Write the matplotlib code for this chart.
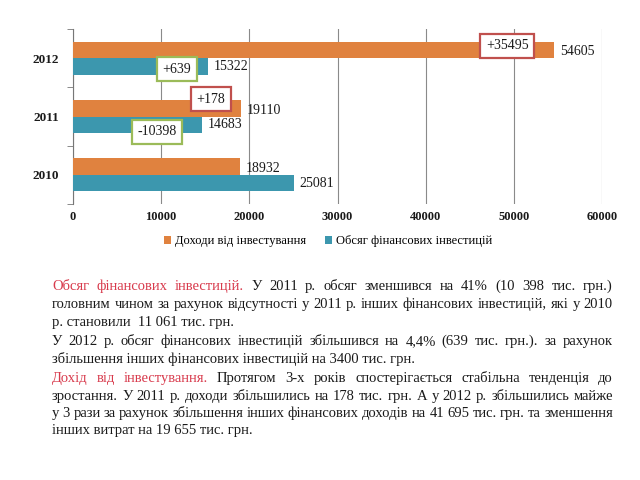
import matplotlib
matplotlib.use("Agg")
import matplotlib.pyplot as plt
import numpy as np

plt.rcParams['font.family'] = ['Liberation Serif', 'DejaVu Serif']

# ---------- DATA ----------
years = ["2010", "2011", "2012"]
income = [18932, 19110, 54605]          # Доходи від інвестування
volume = [25081, 14683, 15322]          # Обсяг фінансових інвестицій
income_change = [None, "+178", "+35495"]
volume_change = [None, "-10398", "+639"]
xticks = [0, 10000, 20000, 30000, 40000, 50000, 60000]
legend_labels = ["Доходи від інвестування", "Обсяг фінансових інвестицій"]

# (red lead-in, rest of line, justified?)
text_lines = [
    ("Обсяг фінансових інвестицій.", "У 2011 р. обсяг зменшився на 41% (10 398 тис. грн.)", True),
    ("", "головним чином за рахунок відсутності у 2011 р. інших фінансових інвестицій, які у 2010", True),
    ("", "р. становили  11 061 тис. грн.", False),
    ("", "У 2012 р. обсяг фінансових інвестицій збільшився на 4,4% (639 тис. грн.). за рахунок", True),
    ("", "збільшення інших фінансових інвестицій на 3400 тис. грн.", False),
    ("Дохід від інвестування.", "Протягом 3-х років спостерігається стабільна тенденція до", True),
    ("", "зростання. У 2011 р. доходи збільшились на 178 тис. грн. А у 2012 р. збільшились майже", True),
    ("", "у 3 рази за рахунок збільшення інших фінансових доходів на 41 695 тис. грн. та зменшення", True),
    ("", "інших витрат на 19 655 тис. грн.", False),
]

# ---------- LAYOUT / STYLE ----------
W, H = 640, 480
ORANGE = "#E0823F"
TEAL = "#3C97AE"
RED_BOX = "#C0504D"
GREEN_BOX = "#9BBB59"
RED_TEXT = "#D83A4C"
INK = "#1a1a1a"
BAR_H = 0.285

# centres of the change boxes (data x, category y)
income_box_xy = [None, (15650, 1.30), (49260, 2.215)]
volume_box_xy = [None, (9520, 0.74), (11800, 1.81)]

TEXT_LEFT, TEXT_RIGHT = 52, 613
LINE_CENTERS = [286, 304, 322, 341, 359, 378, 396, 413, 430]
TEXT_FS = 10.5


def draw_chart(ax):
    y = np.arange(len(years))
    ax.barh(y + BAR_H / 2, income, height=BAR_H, color=ORANGE, zorder=3,
            label=legend_labels[0])
    ax.barh(y - BAR_H / 2, volume, height=BAR_H, color=TEAL, zorder=3,
            label=legend_labels[1])

    for i in range(len(years)):
        ax.annotate(str(income[i]), (income[i], y[i] + BAR_H / 2), xytext=(4, -1.5),
                    textcoords="offset points", va="center", ha="left",
                    fontsize=10, color=INK)
        ax.annotate(str(volume[i]), (volume[i], y[i] - BAR_H / 2), xytext=(4, 0),
                    textcoords="offset points", va="center", ha="left",
                    fontsize=10, color=INK)

    for labels, xy, edge in ((income_change, income_box_xy, RED_BOX),
                             (volume_change, volume_box_xy, GREEN_BOX)):
        for lab, pos in zip(labels, xy):
            if lab is None:
                continue
            ax.text(pos[0], pos[1], lab, ha="center", va="center", fontsize=10,
                    color=INK, zorder=5,
                    bbox=dict(boxstyle="square,pad=0.4", fc="white", ec=edge, lw=1.6))

    ax.set_xlim(0, 60000)
    ax.set_ylim(-0.5, 2.5)
    ax.set_xticks(xticks)
    ax.set_xticklabels([str(t) for t in xticks], fontsize=9, color=INK, fontweight="bold")
    ax.set_yticks(y)
    ax.set_yticklabels(years, fontsize=9.5, color=INK, fontweight="bold")
    ax.tick_params(axis="y", length=0, pad=10)
    ax.tick_params(axis="x", length=0, pad=5)
    ax.set_yticks([-0.5, 0.5, 1.5, 2.5], minor=True)
    ax.tick_params(axis="y", which="minor", length=4, color="#777777")

    ax.grid(axis="x", color="#8a8a8a", lw=0.8, zorder=0)
    for s in ("top", "right", "bottom"):
        ax.spines[s].set_visible(False)
    ax.spines["left"].set_color("#777777")
    ax.spines["left"].set_linewidth(0.8)


def draw_text(fig):
    renderer = fig.canvas.get_renderer()
    for (red, black, justify), yc in zip(text_lines, LINE_CENTERS):
        yb = 1 - (yc + 4) / H
        if not justify:
            # plain left-aligned last line of a paragraph
            fig.text(TEXT_LEFT / W, yb, black, color=INK, fontsize=TEXT_FS,
                     va="baseline", ha="left")
            continue
        words = [(w, RED_TEXT) for w in red.split()] + [(w, INK) for w in black.split()]
        texts = [fig.text(0, yb, w, color=c, fontsize=TEXT_FS, va="baseline", ha="left")
                 for w, c in words]
        widths = [t.get_window_extent(renderer).width for t in texts]
        gap = (TEXT_RIGHT - TEXT_LEFT - sum(widths)) / (len(words) - 1)
        x = TEXT_LEFT
        for t, w in zip(texts, widths):
            t.set_x(x / W)
            x += w + gap


def main():
    fig = plt.figure(figsize=(W / 100, H / 100), dpi=100)
    ax = fig.add_axes([73 / W, 1 - 204 / H, (602 - 73) / W, (204 - 29) / H])
    draw_chart(ax)

    handles, labels = ax.get_legend_handles_labels()
    fig.legend(handles, labels, loc="center", bbox_to_anchor=(328 / W, 1 - 241 / H),
               ncol=2, frameon=False, fontsize=9, handlelength=0.6, handleheight=0.6,
               handletextpad=0.3, columnspacing=1.5)

    fig.canvas.draw()
    draw_text(fig)

    fig.savefig("out.png", dpi=100)


if __name__ == "__main__":
    main()
